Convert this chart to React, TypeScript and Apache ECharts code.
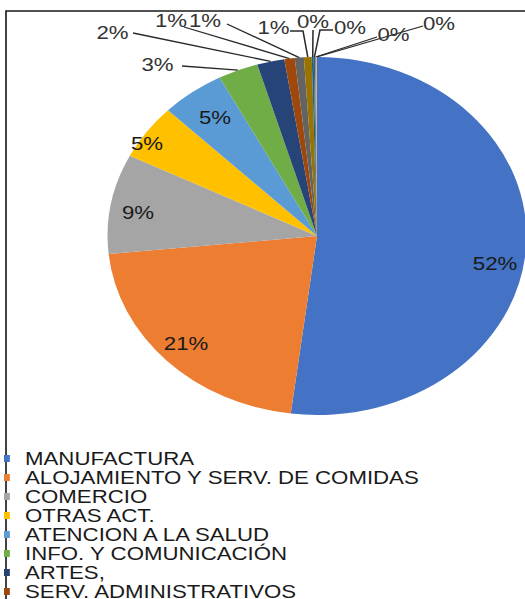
import React, { useEffect, useRef } from "react";
import * as echarts from "echarts";

// ---- data ----
const categories = [
  "MANUFACTURA",
  "ALOJAMIENTO Y SERV. DE COMIDAS",
  "COMERCIO",
  "OTRAS ACT.",
  "ATENCION A LA SALUD",
  "INFO. Y COMUNICACIÓN",
  "ARTES,",
  "SERV. ADMINISTRATIVOS",
  "CONSTRUCCION",
  "TRANSPORTE",
  "ENSEÑANZA",
  "ACT. PROFESIONALES",
  "ACT. FINANCIERAS",
  "AGRICULTURA",
];
const shares = [52.0, 21.4, 9.0, 5.0, 4.9, 3.1, 2.1, 0.8, 0.7, 0.6, 0.15, 0.1, 0.1, 0.05];
const legendVisible = categories.slice(0, 8);
const colors = [
  "#4472C4", "#ED7D31", "#A5A5A5", "#FFC000", "#5B9BD5", "#70AD47", "#264478",
  "#9E480E", "#636363", "#997300", "#255E91", "#43682B", "#698ED0", "#F1975A",
];

// ---- layout (picture is horizontally stretched) ----
const S = 1.17;
const W = 449;
const H = 599;
const CX = 317 / S;
const CY = 236;
const R = 179;
const FONT = "'Liberation Sans', Arial, sans-serif";

// label spots in page pixels; path goes from label toward the slice edge
const spots: Record<number, { x: number; y: number; path?: number[][] }> = {
  0: { x: 495, y: 263 },
  1: { x: 186, y: 343 },
  2: { x: 138, y: 212 },
  3: { x: 147, y: 143 },
  4: { x: 215, y: 117 },
  5: { x: 157.5, y: 64, path: [[182, 66]] },
  6: { x: 112.5, y: 32, path: [[133, 33]] },
  7: { x: 171, y: 20, path: [[184, 27]] },
  8: { x: 205, y: 20, path: [[227, 24]] },
  9: { x: 273.5, y: 27, path: [[290, 31], [303, 31]] },
  10: { x: 313, y: 21, path: [[313, 30]] },
  11: { x: 350, y: 27, path: [[333, 30], [320, 30]] },
  12: { x: 393.5, y: 34, path: [[377, 37]] },
  13: { x: 439, y: 23, path: [[423, 26]] },
};
const insideCount = 5;

function edgePoint(i: number): number[] {
  const total = shares.reduce((a, b) => a + b, 0);
  let before = 0;
  for (let k = 0; k < i; k++) before += shares[k];
  const a = ((before + shares[i] / 2) / total) * Math.PI * 2;
  return [CX + R * Math.sin(a), CY - R * Math.cos(a)];
}

export default function App() {
  const ref = useRef<HTMLDivElement>(null);
  useEffect(() => {
    if (!ref.current) return;
    const chart = echarts.init(ref.current, null, { renderer: "svg", width: W, height: H });
    const data = categories.map((name, i) => {
      const inside = i < insideCount;
      return {
        name,
        value: shares[i],
        itemStyle: { color: colors[i] },
        label: {
          position: inside ? "inside" : "outside",
          color: inside ? "#1a1a1a" : "#333333",
        },
        labelLine: { show: !inside },
      };
    });
    chart.setOption({
      animation: false,
      backgroundColor: "#ffffff",
      graphic: [
        {
          type: "rect",
          z: 0,
          silent: true,
          shape: { x: 6 / S, y: 11, width: W + 20, height: H + 20 },
          style: { fill: "none", stroke: "#1a1a1a", lineWidth: 1.4 },
        },
      ],
      legend: {
        orient: "vertical",
        left: 4 / S,
        top: 449,
        height: 400,
        padding: 0,
        itemWidth: 5,
        itemHeight: 7,
        itemGap: 0,
        icon: "rect",
        selectedMode: false,
        data: legendVisible,
        z: 5,
        textStyle: {
          fontFamily: FONT,
          fontSize: 19,
          lineHeight: 19,
          color: "#1a1a1a",
          padding: [0, 0, 0, 8],
        },
      },
      series: [
        {
          type: "pie",
          center: [CX, CY],
          radius: [0, R],
          startAngle: 90,
          clockwise: true,
          avoidLabelOverlap: false,
          silent: true,
          emphasis: { disabled: true },
          itemStyle: { borderWidth: 0 },
          label: {
            show: true,
            fontFamily: FONT,
            fontSize: 19,
            formatter: (p: any) => Math.round(p.percent) + "%",
          },
          labelLine: {
            show: true,
            length: 10,
            length2: 10,
            lineStyle: { color: "#2a2a2a", width: 1.3 },
          },
          labelLayout: (p: any) => {
            const spot = spots[p.dataIndex];
            if (!spot) return {};
            const out: any = {
              x: spot.x / S,
              y: spot.y,
              align: "center",
              verticalAlign: "middle",
            };
            if (spot.path) {
              const pts = [edgePoint(p.dataIndex)];
              for (let k = spot.path.length - 1; k >= 0; k--) {
                pts.push([spot.path[k][0] / S, spot.path[k][1]]);
              }
              out.labelLinePoints = pts;
            }
            return out;
          },
          data,
        },
      ],
    });
    return () => chart.dispose();
  }, []);
  return (
    <div style={{ position: "fixed", left: 0, top: 0, width: 525, height: 599, overflow: "hidden", background: "#fff" }}>
      <div
        ref={ref}
        style={{ width: W, height: H, transform: `scaleX(${S})`, transformOrigin: "0 0" }}
      />
    </div>
  );
}
